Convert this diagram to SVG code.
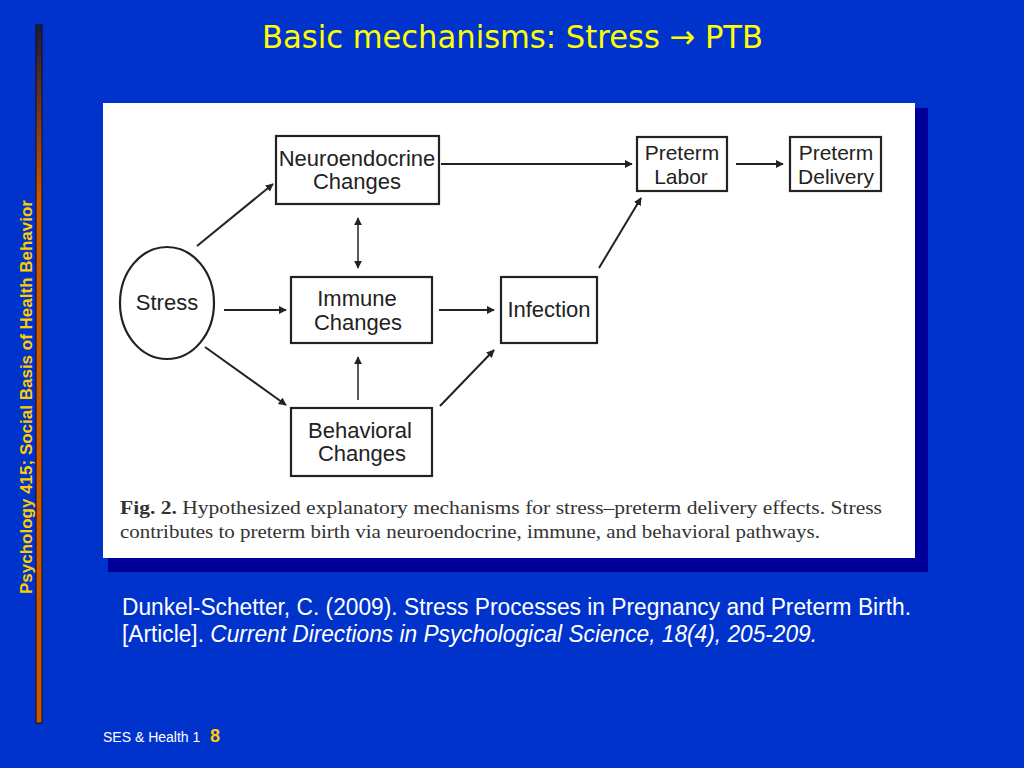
<svg xmlns="http://www.w3.org/2000/svg" width="1024" height="768" viewBox="0 0 1024 768">
<style>
.box{fill:#fff;stroke:#222;stroke-width:2.2}
.lbl{font-family:"Liberation Sans",Arial,sans-serif;font-size:22px;fill:#222;text-anchor:middle}
.sm{font-size:21px}
.conn line{stroke:#222;stroke-width:2}
.cap{font-family:"Liberation Serif","Times New Roman",serif;font-size:18px;fill:#333}
</style>
<defs>
<marker id="ah" viewBox="0 0 10 10" refX="9" refY="5" markerWidth="8" markerHeight="8" markerUnits="userSpaceOnUse" orient="auto-start-reverse">
<path d="M0,0 L10,5 L0,10 z" fill="#222"/>
</marker>
<linearGradient id="bar" x1="0" y1="0" x2="0" y2="1">
<stop offset="0" stop-color="#1a1a40"/>
<stop offset="0.25" stop-color="#cc5500"/>
<stop offset="1" stop-color="#cc5500"/>
</linearGradient>
</defs>
<rect width="1024" height="768" fill="#0033cc"/>
<rect x="36" y="25" width="6" height="698" fill="url(#bar)" stroke="#111" stroke-width="1"/>
<text transform="translate(32,397) rotate(-90)" text-anchor="middle" font-family="'Liberation Sans',Arial,sans-serif" font-weight="bold" font-size="17" fill="#ffcc00" textLength="394" lengthAdjust="spacingAndGlyphs">Psychology 415; Social Basis of Health Behavior</text>
<text x="262" y="48" font-family="'DejaVu Sans',Verdana,sans-serif" font-size="32" fill="#ffff00" textLength="501" lengthAdjust="spacingAndGlyphs">Basic mechanisms: Stress → PTB</text>
<rect x="108" y="108" width="820" height="464" fill="#000099"/>
<rect x="103" y="103" width="812" height="455" fill="#fff"/>
<g id="stress"><ellipse class="box" cx="167" cy="303" rx="47" ry="56"/><text class="lbl" x="167" y="310" font-size="25">Stress</text></g>
<g id="neuro"><rect class="box" x="276" y="136" width="163" height="68"/><text class="lbl" x="357" y="166">Neuroendocrine</text><text class="lbl" x="357" y="189">Changes</text></g>
<g id="labor"><rect class="box" x="637" y="137" width="90" height="54"/><text class="lbl sm" x="682" y="160">Preterm</text><text class="lbl sm" x="681" y="184">Labor</text></g>
<g id="delivery"><rect class="box" x="790" y="137" width="91" height="54"/><text class="lbl sm" x="836" y="160">Preterm</text><text class="lbl sm" x="836" y="184">Delivery</text></g>
<g id="immune"><rect class="box" x="291" y="277" width="141" height="66"/><text class="lbl" x="357" y="306">Immune</text><text class="lbl" x="358" y="330">Changes</text></g>
<g id="infection"><rect class="box" x="501" y="277" width="96" height="66"/><text class="lbl" x="549" y="317" font-size="21">Infection</text></g>
<g id="behavioral"><rect class="box" x="291" y="408" width="141" height="68"/><text class="lbl" x="360" y="438">Behavioral</text><text class="lbl" x="362" y="461">Changes</text></g>
<g id="connectors" class="conn">
<line x1="197" y1="246" x2="273" y2="184" marker-end="url(#ah)"/>
<line x1="441" y1="164" x2="632" y2="164" marker-end="url(#ah)"/>
<line x1="736" y1="164" x2="783" y2="164" marker-end="url(#ah)"/>
<line x1="358" y1="218" x2="358" y2="268" marker-start="url(#ah)" marker-end="url(#ah)" style="stroke-width:1.5"/>
<line x1="224" y1="310" x2="286" y2="310" marker-end="url(#ah)"/>
<line x1="439" y1="310" x2="494" y2="310" marker-end="url(#ah)"/>
<line x1="599" y1="268" x2="641" y2="198" marker-end="url(#ah)"/>
<line x1="205" y1="347" x2="286" y2="405" marker-end="url(#ah)"/>
<line x1="358" y1="400" x2="358" y2="357" marker-end="url(#ah)" style="stroke-width:1.5"/>
<line x1="440" y1="406" x2="494" y2="350" marker-end="url(#ah)"/>
</g>
<text class="cap" x="120" y="514" textLength="762" lengthAdjust="spacingAndGlyphs"><tspan font-weight="bold">Fig. 2.</tspan> Hypothesized explanatory mechanisms for stress–preterm delivery effects. Stress</text>
<text class="cap" x="120" y="538" textLength="700" lengthAdjust="spacingAndGlyphs">contributes to preterm birth via neuroendocrine, immune, and behavioral pathways.</text>
<g font-family="'Liberation Sans',Arial,sans-serif" font-size="23" fill="#fff">
<text x="122" y="615" textLength="789" lengthAdjust="spacingAndGlyphs">Dunkel-Schetter, C. (2009). Stress Processes in Pregnancy and Preterm Birth.</text>
<text x="122" y="642" textLength="695" lengthAdjust="spacingAndGlyphs">[Article]. <tspan font-style="italic">Current Directions in Psychological Science, 18(4), 205-209.</tspan></text>
</g>
<text x="103" y="742" font-family="'Liberation Sans',Arial,sans-serif" font-size="14" fill="#fff">SES &amp; Health 1</text>
<text x="210" y="742" font-family="'Liberation Sans',Arial,sans-serif" font-size="18" font-weight="bold" fill="#ffcc00">8</text>
</svg>
